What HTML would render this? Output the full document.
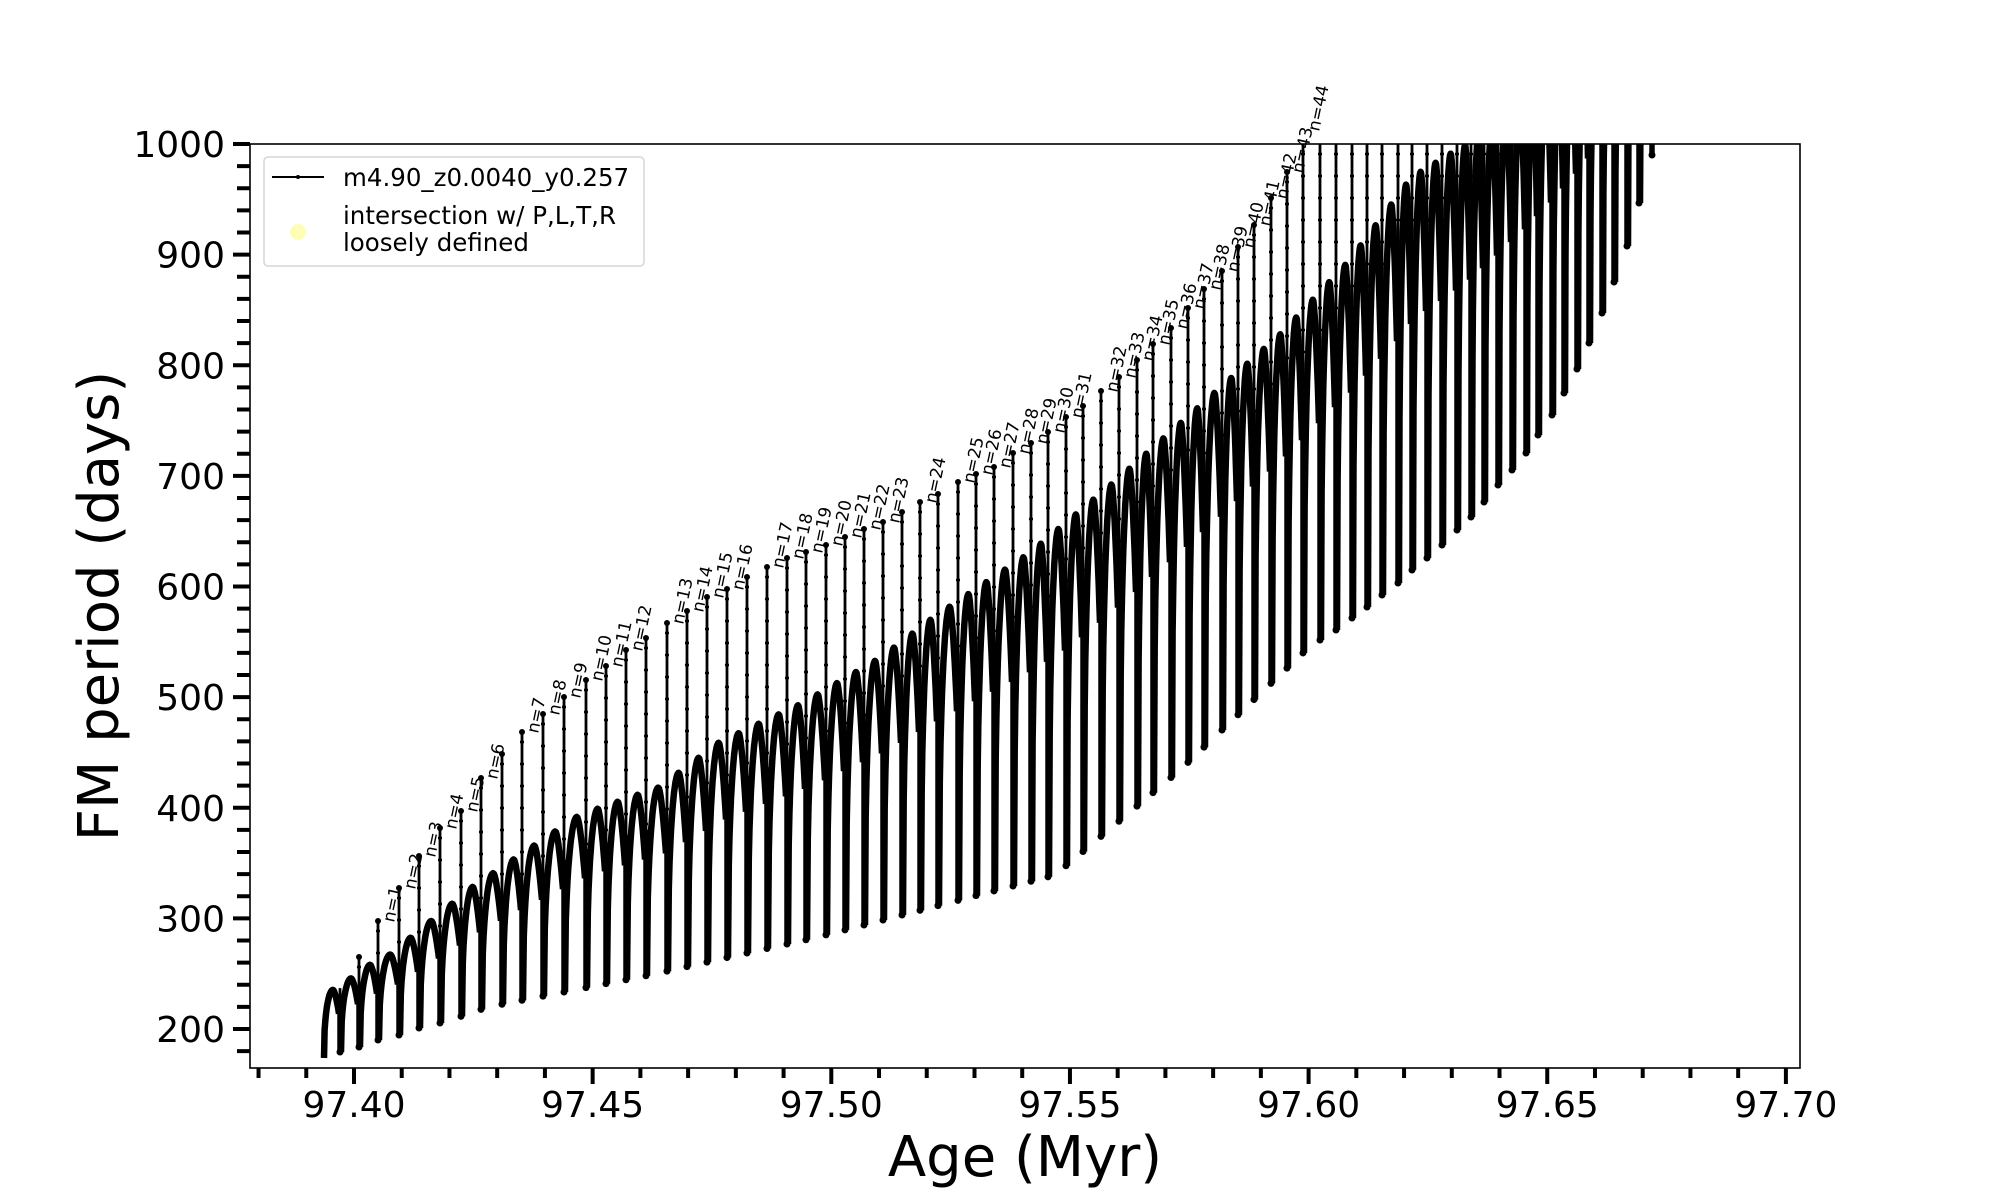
<!DOCTYPE html>
<html><head><meta charset="utf-8"><style>
html,body{margin:0;padding:0;background:#fff;}
svg{display:block;}
text{font-family:"DejaVu Sans","Liberation Sans",sans-serif;fill:#000;}
</style></head><body>
<svg id="s" width="2000" height="1200" viewBox="0 0 2000 1200" xmlns="http://www.w3.org/2000/svg">
<defs><clipPath id="cp"><rect x="250" y="144" width="1550" height="924"/></clipPath></defs>
<g id="data" clip-path="url(#cp)"></g>
<g id="labels"></g>
<rect x="250" y="144" width="1550" height="924" fill="none" stroke="#000" stroke-width="1.6"/>
<g id="ticks" stroke="#000" stroke-width="4"></g>
<g id="ticklabels" font-size="36"></g>
<text x="1025" y="1176" font-size="56" text-anchor="middle">Age (Myr)</text>
<text transform="translate(118,606) rotate(-90)" font-size="56" text-anchor="middle">FM period (days)</text>
<rect x="264" y="157" width="380" height="109" rx="4" fill="#fff" fill-opacity="0.85" stroke="#d6d6d6" stroke-width="1.5"/>
<line x1="272" y1="177" x2="324" y2="177" stroke="#000" stroke-width="2"/>
<circle cx="298" cy="177" r="2" fill="#000"/>
<circle cx="298" cy="232" r="8" fill="#fdfdb5"/>
<text x="343" y="186" font-size="24.5">m4.90_z0.0040_y0.257</text>
<text x="343" y="224" font-size="24.5">intersection w/ P,L,T,R</text>
<text x="343" y="251" font-size="24.5">loosely defined</text>
</svg>
<script>
(function(){
var NS="http://www.w3.org/2000/svg";
function el(tag,attrs,parent){var e=document.createElementNS(NS,tag);for(var k in attrs)e.setAttribute(k,attrs[k]);parent.appendChild(e);return e;}
function interp(pts,x){if(x<=pts[0][0])return pts[0][1]+(x-pts[0][0])*(pts[1][1]-pts[0][1])/(pts[1][0]-pts[0][0]);
for(var i=1;i<pts.length;i++){if(x<=pts[i][0]){var a=pts[i-1],b=pts[i];return a[1]+(x-a[0])*(b[1]-a[1])/(b[0]-a[0]);}}
var n=pts.length,a=pts[n-2],b=pts[n-1];return b[1]+(x-b[0])*(b[1]-a[1])/(b[0]-a[0]);}
var T=[[323,1058],[340,1052],[359,1047],[378,1040],[399,1035],[419,1028],[440,1023],[462,1016],[482,1009],[503,1004],[650,975],[818,937],[1055,875],[1180,770],[1304,652],[1320,640],[1336,630],[1352,618],[1367,607],[1382,595],[1398,583],[1412,570],[1427,558],[1442,545],[1457,530],[1471,517],[1484,502],[1498,485],[1512,470],[1526,453],[1538,435],[1552,415],[1564,393],[1577,369],[1589,343],[1602,313],[1614,282],[1627,246],[1639,203],[1652,155]];
var P=[[323,1010],[333,990],[352,978],[370,965],[390,955],[473,887],[580,815],[660,787],[720,742],[803,703],[882,657],[933,618],[1030,553],[1117,480],[1283,332],[1350,260],[1412,177],[1467,144],[1520,100],[1660,-20]];
var spikes=[[340,null],[359,957],[378,921,1],[399,888,2],[419,856,3],[440,828,4],[461,811,5],[481,778,6],[502,754],[522,732,7],[543,714,8],[564,697,9],[586,680,10],[606,666,11],[626,650,12],[646,638],[667,623,13],[687,611,14],[707,597,15],[727,589,16],[747,577],[767,567,17],[787,558,18],[806,552,19],[826,545,20],[845,537,21],[864,529,22],[883,522,23],[902,512],[920,502,24],[938,494],[958,482,25],[976,474,26],[994,467,27],[1013,453,28],[1031,443,29],[1048,432,30],[1066,417,31],[1083,406],[1101,391,32],[1119,377,33],[1137,360,34],[1153,344,35],[1171,328,36],[1188,308,37],[1204,289,38],[1222,271,39],[1238,247,40],[1254,225,41],[1271,198,42],[1287,172,43],[1303,130,44]];
var late=[1320,1336,1352,1367,1382,1398,1412,1427,1442,1457,1471,1484,1498,1512,1526,1538,1552,1564,1577,1589,1602,1614,1627,1639,1652];
late.forEach(function(x){spikes.push([x,0]);});
var g=document.getElementById('data'),lg=document.getElementById('labels');
var b=[323].concat(spikes.map(function(s){return s[0];}));
var d="";
for(var i=0;i<b.length-1;i++){
 var x0=b[i],x1=b[i+1],w=x1-x0,t0=interp(T,x0),pk=interp(P,x0+0.6*w);
 var pts=[];
 for(var k=0;k<=24;k++){var u=k/24,h;
  if(u<=0.6){h=Math.pow(Math.sin(Math.PI/2*u/0.6),0.4);}else{var v=(u-0.6)/0.4;h=1-0.35*Math.pow(v,1.6);}
  var y=t0+(pk-t0)*h; pts.push((x0+1+u*(w-2)).toFixed(1)+","+y.toFixed(1));}
 d+="M"+pts.join(" L");
}
el('path',{d:d,fill:'none',stroke:'#000','stroke-width':6.5,'stroke-linejoin':'round'},g);
var dots="";
spikes.forEach(function(s){
 var x=s[0],tr=interp(T,x),pk=interp(P,x-4);
 var top=(s[1]===null)?pk:s[1];
 if(top>pk)top=pk;
 var mid=pk+(tr-pk)*0.2;
 el('line',{x1:x,y1:mid,x2:x,y2:tr,stroke:'#000','stroke-width':5.5},g);
 el('line',{x1:x,y1:Math.max(top,120),x2:x,y2:tr,stroke:'#000','stroke-width':2.8},g);
 for(var y=Math.max(top,144)+10;y<tr;y+=22){dots+="M"+(x-2)+","+y.toFixed(1)+"h4";}
 el('circle',{cx:x,cy:tr,r:3.5,fill:'#000'},g);
 if(s[1]!==null&&s[1]>144)el('circle',{cx:x,cy:top,r:3,fill:'#000'},g);
 if(s[2]){var t=el('text',{transform:'translate('+(x+16)+','+(top+2)+') rotate(-78)','font-size':17},lg);t.textContent='n='+s[2];}
});
el('path',{d:dots,stroke:'#000','stroke-width':2.5},g);
var tk=document.getElementById('ticks'),tl=document.getElementById('ticklabels');
function X(v){return 354+(v-97.40)*4773;}
function Y(v){return 144+(1000-v)*1.10625;}
for(var m=0;m<=32;m++){var v=97.38+m*0.01,x=X(v);if(x<249||x>1801)continue;
 var major=Math.abs((v*100)%5)<0.01||Math.abs((v*100)%5-5)<0.01;
 el('line',{x1:x,y1:1068,x2:x,y2:major?1084:1078},tk);}
[97.40,97.45,97.50,97.55,97.60,97.65,97.70].forEach(function(v){var t=el('text',{x:X(v),y:1117,'text-anchor':'middle'},tl);t.textContent=v.toFixed(2);});
for(var v=180;v<=1000;v+=20){var y=Y(v),major=(v%100===0);
 el('line',{x1:250,y1:y,x2:major?233:237,y2:y},tk);
 if(major){var t=el('text',{x:225,y:y+13,'text-anchor':'end'},tl);t.textContent=v;}}
})();
</script>
</body></html>
